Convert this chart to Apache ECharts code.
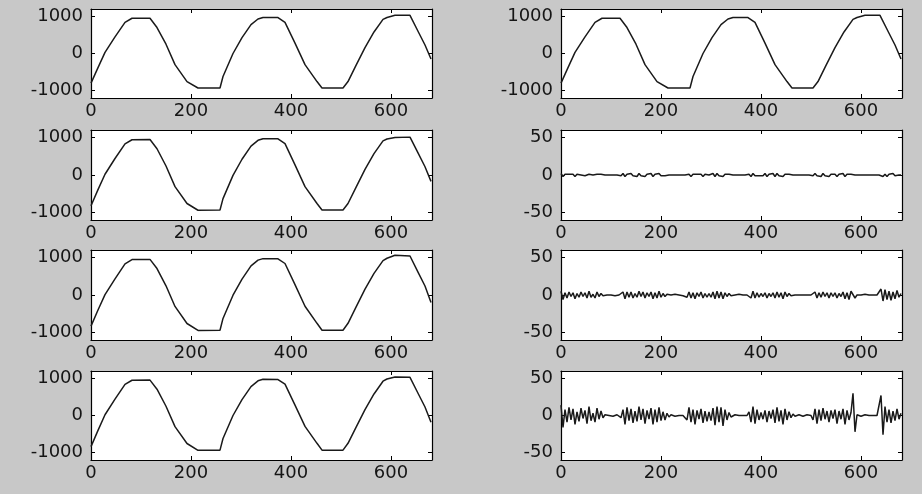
<!DOCTYPE html>
<html>
<head>
<meta charset="utf-8">
<script src="https://cdn.jsdelivr.net/npm/echarts@6/dist/echarts.min.js"></script>
<style>
  html, body { margin: 0; padding: 0; background: #c8c8c8; }
  #chart { width: 922px; height: 494px; }
</style>
</head>
<body>
<div id="chart"></div>
<script>
// breakpoints of the smooth signal (sample index)
const knotX = [0, 14, 28, 48, 68, 82, 118, 132, 150, 168, 192, 214, 258, 264, 284, 302, 320, 334, 344, 374, 388, 408, 428, 452, 462, 504, 514, 530, 548, 566, 584, 592, 608, 638, 654, 668, 680];

// left column + top right: original / reconstructed signals
const sig1 = [-800, -380, 30, 450, 840, 950, 950, 700, 250, -300, -757, -930, -930, -620, 0, 430, 780, 930, 970, 970, 840, 280, -300, -757, -930, -930, -757, -320, 160, 580, 920, 970, 1030, 1030, 600, 230, -150];
const sig2 = [-820, -390, 20, 440, 830, 940, 945, 700, 240, -310, -760, -940, -935, -630, -10, 420, 770, 925, 965, 965, 835, 270, -310, -760, -935, -935, -760, -330, 150, 570, 910, 960, 1000, 1010, 590, 220, -170];
const sig3 = [-830, -400, 10, 430, 830, 945, 950, 705, 245, -305, -760, -945, -940, -625, -5, 425, 775, 930, 970, 965, 840, 275, -300, -755, -940, -940, -755, -325, 155, 575, 915, 980, 1060, 1040, 610, 240, -200];
const sig4 = [-840, -400, 20, 440, 840, 950, 955, 710, 250, -300, -755, -940, -935, -620, 0, 430, 780, 935, 975, 970, 845, 280, -295, -750, -935, -935, -750, -320, 160, 580, 925, 985, 1040, 1030, 600, 230, -180];

// right column rows 2-4: residual noise, one value every noiseStep samples
const noiseStep = 4;
const noise1 = [2, -2, 1, -1, 1, 0, 1, -2, 1, -1, 0, 1, -1, 0, 1, -1, 0, -1, 1, 0, 1, 0,
  0, 0, 0, 0, 0, 0, 0, 0,
  -1, 2, -2, 1, -1, 2, -1, 1, -2, 2, -1, 1, -2, 1, -1, 2, -2, 1, -1, 2, -1, 1, -1, 0, 0,
  0, 0, 0, 0, 0, 0, 0, 0,
  -1, 1, -2, 1, -1, 1, 0, 1, -2, 1, -1, 0, -1, 2, -2, 2, -1, 1, -2, 1, -1, 1, 0,
  0, 0, 0, 0, 0, 0, 0, 0,
  1, -2, 2, -1, 1, -1, 0, -1, 2, -2, 1, -1, 2, -2, 2, -1, 1, -2, 1, -1, 1, 0, 0, 0,
  0, 0, 0, 0, 0, 0, 0, 0,
  -1, 2, -1, 1, -2, 2, -1, 1, -2, 1, -1, 1, -2, 1, -1, 2, -2, 1, -1, 1, 0, 0,
  0, 0, 0, 0, 0, 0, 0, 0, 0, 0, 0, 0,
  2, -2,
  1, -2, 1, -1, 2, -1, 1, 0, 0];
const noise2 = [5, -6, 3, -4, 4, -2, 3, -5, 2, -3, 4, -2, 3, -4, 5, -3, 1, -4, 4, -2, 2, -1,
  0, 0, 1, 0, 0, -1, 0, 0,
  -2, 4, -5, 4, -3, 4, -4, 2, -3, 5, -2, 4, -4, 3, -2, 4, -5, 3, -4, 5, -3, 2, -2, 1, -1,
  0, 0, 1, 0, 0, 0, -1, 0,
  -3, 4, -4, 3, -5, 3, -2, 4, -4, 2, -3, 2, -3, 4, -5, 5, -4, 4, -5, 3, -2, 2, -1,
  0, 0, 0, 1, 0, 0, -1, 0,
  2, -4, 5, -4, 3, -3, 2, -2, 3, -4, 2, -2, 3, -4, 4, -3, 3, -5, 4, -2, 2, -1, 1, 0,
  0, 0, 1, 0, 0, 0, -1, 0,
  -2, 4, -4, 3, -3, 4, -2, 3, -4, 3, -2, 3, -4, 2, -2, 4, -5, 3, -6, 5, 6, -4,
  0, 0, 0, 0, 1, 0, 0, 0, 0, -1, 0, 0,
  8, -8,
  7, -6, 5, -7, 4, -5, 6, -3, 2];
const noise3 = [14, -16, 8, -9, 11, -6, 9, -12, 5, -8, 10, -4, 7, -11, 12, -7, 3, -9, 10, -5, 6, -3,
  1, -1, 0, 1, -1, 0, 1, -1,
  -3, 8, -12, 11, -7, 9, -10, 6, -8, 12, -6, 9, -11, 7, -5, 10, -12, 8, -9, 11, -7, 5, -6, 3, -2,
  1, 0, -1, 1, 0, -1, 0, 1,
  -6, 11, -9, 8, -12, 7, -5, 9, -10, 6, -8, 5, -7, 10, -13, 12, -9, 11, -14, 8, -6, 4, -2,
  0, 1, -1, 0, 1, 0, -1, 0,
  5, -9, 12, -11, 8, -6, 4, -5, 7, -9, 6, -4, 8, -10, 11, -8, 7, -12, 9, -6, 5, -3, 2, -1,
  0, 1, 0, -1, 0, 1, -1, 0,
  -6, 9, -11, 8, -7, 10, -5, 6, -9, 7, -4, 8, -11, 6, -5, 9, -12, 7, -6, 4, 30, -22,
  1, 0, -1, 0, 1, 0, 0, -1, 0, 1, 0, -1,
  27, -26,
  12, -9, 8, -10, 6, -7, 9, -5, 3];

const xTicks = [0, 200, 400, 600];
const bigTicks = [-1000, 0, 1000];
const smallTicks = [-50, 0, 50];

const rows = [{ top: 9, height: 89 }, { top: 130, height: 90 }, { top: 250, height: 90 }, { top: 371, height: 89 }];
const colLeft = [91, 561];
const panelW = 341;

const pairs = (ys) => ys.map((y, i) => [knotX[i], y]);
const noisePairs = (ys) => ys.map((y, i) => [i * noiseStep, y]);

const panels = [
  { row: 0, col: 0, data: pairs(sig1), lim: 1200, ticks: bigTicks },
  { row: 0, col: 1, data: pairs(sig1), lim: 1200, ticks: bigTicks },
  { row: 1, col: 0, data: pairs(sig2), lim: 1200, ticks: bigTicks },
  { row: 1, col: 1, data: noisePairs(noise1), lim: 60, ticks: smallTicks },
  { row: 2, col: 0, data: pairs(sig3), lim: 1200, ticks: bigTicks },
  { row: 2, col: 1, data: noisePairs(noise2), lim: 60, ticks: smallTicks },
  { row: 3, col: 0, data: pairs(sig4), lim: 1200, ticks: bigTicks },
  { row: 3, col: 1, data: noisePairs(noise3), lim: 60, ticks: smallTicks }
];

// plain numbers, no thousands separator
const labelFont = { color: '#151515', fontFamily: 'DejaVu Sans', fontSize: 18, formatter: (v) => String(v) };

function xAx(gi, pos) {
  return {
    type: 'value', gridIndex: gi, position: pos, min: 0, max: 682,
    axisLine: { show: true, onZero: false, lineStyle: { color: '#000', width: 1.2 } },
    axisTick: { show: true, inside: true, length: 4, customValues: xTicks, lineStyle: { color: '#000' } },
    axisLabel: Object.assign({ show: pos === 'bottom', customValues: xTicks, margin: 4 }, labelFont),
    splitLine: { show: false }
  };
}

function yAx(gi, pos, p) {
  return {
    type: 'value', gridIndex: gi, position: pos, min: -p.lim, max: p.lim,
    axisLine: { show: true, onZero: false, lineStyle: { color: '#000', width: 1.2 } },
    axisTick: { show: true, inside: true, length: 4, customValues: p.ticks, lineStyle: { color: '#000' } },
    axisLabel: Object.assign({ show: pos === 'left', customValues: p.ticks, margin: 8 }, labelFont),
    splitLine: { show: false }
  };
}

const grid = [], xAxis = [], yAxis = [], series = [];
panels.forEach((p, i) => {
  grid.push({
    left: colLeft[p.col], top: rows[p.row].top, width: panelW, height: rows[p.row].height,
    show: true, backgroundColor: '#fff', borderWidth: 0
  });
  xAxis.push(xAx(i, 'bottom'), xAx(i, 'top'));
  yAxis.push(yAx(i, 'left', p), yAx(i, 'right', p));
  series.push({
    type: 'line', xAxisIndex: 2 * i, yAxisIndex: 2 * i, data: p.data,
    showSymbol: false, silent: true,
    lineStyle: { color: '#1a1a1a', width: 1.5 }
  });
});

const chart = echarts.init(document.getElementById('chart'));
chart.setOption({
  backgroundColor: '#c8c8c8',
  animation: false,
  grid, xAxis, yAxis, series
});
</script>
</body>
</html>
